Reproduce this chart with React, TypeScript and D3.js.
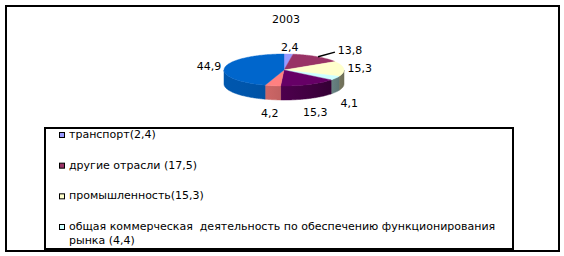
import React from "react";
import * as d3 from "d3";

const title = "2003";
const values = [2.4, 13.8, 15.3, 4.1, 15.3, 4.2, 44.9];
const pieLabels = ["2,4", "13,8", "15,3", "4,1", "15,3", "4,2", "44,9"];
const sliceColors = ["#9999FF", "#993366", "#FFFFCC", "#CCFFFF", "#660066", "#FF8080", "#0066CC"];
const legendLabels = [
  ["транспорт(2,4)"],
  ["другие отрасли (17,5)"],
  ["промышленность(15,3)"],
  ["общая коммерческая  деятельность по обеспечению функционирования", "рынка (4,4)"],
];
const legendColors = ["#9999FF", "#993366", "#FFFFCC", "#CCFFFF"];

const W = 564;
const H = 256;
const cx = 284;
const cy = 70;
const rx = 60;
const ry = 16;
const depth = 14;
const labelRx = 76;
const labelRy = 22.6;
const pulled = { index: 1, dx: 24, dy: -1 };
const font = "'DejaVu Sans', sans-serif";

const pt = (a: number, dy = 0): [number, number] => [cx + rx * Math.sin(a), cy - ry * Math.cos(a) + dy];

function shadeAt(c: string, s: number) {
  const t = (s + 1) / 2;
  const k = 0.85 - 0.42 * t * t;
  const col = d3.rgb(c);
  return d3.rgb(col.r * k, col.g * k, col.b * k).formatHex();
}

export default function App() {
  const arcs = d3.pie<number>().sort(null).startAngle(0).endAngle(2 * Math.PI)(values);
  const line = d3.line();
  const stops = d3.range(0, 11).map((k) => k / 10);

  const gradients = sliceColors.map((c, i) => (
    <linearGradient key={`g${i}`} id={`side${i}`} gradientUnits="userSpaceOnUse" x1={cx - rx} y1={0} x2={cx + rx} y2={0}>
      {stops.map((o) => (
        <stop key={o} offset={o} stopColor={shadeAt(c, o * 2 - 1)} />
      ))}
    </linearGradient>
  ));

  const sides: React.ReactNode[] = [];
  arcs.forEach((arc, i) => {
    const s = Math.max(arc.startAngle, Math.PI / 2);
    const e = Math.min(arc.endAngle, (3 * Math.PI) / 2);
    if (s >= e) return;
    const n = Math.max(2, Math.ceil((e - s) / 0.02));
    const topPts: [number, number][] = [];
    const botPts: [number, number][] = [];
    for (let k = 0; k <= n; k++) {
      const a = s + ((e - s) * k) / n;
      topPts.push(pt(a));
      botPts.push(pt(a, depth));
    }
    const poly = topPts.concat(botPts.reverse());
    sides.push(
      <path key={`s${i}`} d={line(poly)! + "Z"} fill={`url(#side${i})`} stroke={`url(#side${i})`} strokeWidth={0.5} />
    );
  });

  const tops = arcs.map((arc, i) => {
    const n = Math.max(2, Math.ceil((arc.endAngle - arc.startAngle) / 0.02));
    const pts: [number, number][] = [[cx, cy]];
    for (let k = 0; k <= n; k++) {
      pts.push(pt(arc.startAngle + ((arc.endAngle - arc.startAngle) * k) / n));
    }
    return <path key={`t${i}`} d={line(pts)! + "Z"} fill={sliceColors[i]} stroke={sliceColors[i]} strokeWidth={0.4} />;
  });

  const labels = arcs.map((arc, i) => {
    const a = (arc.startAngle + arc.endAngle) / 2;
    const front = Math.cos(a) < 0;
    let x = cx + labelRx * Math.sin(a);
    let y = cy - labelRy * Math.cos(a) + (front ? depth + 7 : 0);
    let leader: React.ReactNode = null;
    if (i === pulled.index) {
      x += pulled.dx;
      y += pulled.dy;
      const [sx, sy] = pt(a);
      leader = <line x1={sx + 1} y1={sy} x2={x - 15} y2={y + 2} stroke="#000" strokeWidth={1.5} />;
    }
    return (
      <g key={`l${i}`}>
        {leader}
        <text x={x} y={y + 4} textAnchor="middle" fontFamily={font} fontSize={11} fill="#000">
          {pieLabels[i]}
        </text>
      </g>
    );
  });

  const legendY = d3.scaleLinear().domain([0, 3]).range([138, 230]);

  return (
    <svg width={W} height={H} style={{ position: "absolute", left: 0, top: 0 }}>
      <defs>{gradients}</defs>
      <rect x={0} y={0} width={W} height={H} fill="#fff" />
      <rect x={6} y={6} width={553} height={245} fill="#fff" stroke="#000" strokeWidth={2} />
      <text x={286} y={23} textAnchor="middle" fontFamily={font} fontSize={11} fill="#000">
        {title}
      </text>
      {sides}
      {tops}
      {labels}
      <rect x={45} y={128} width={468} height={121} fill="#fff" stroke="#000" strokeWidth={2} />
      {legendLabels.map((lines, i) => {
        const y = legendY(i);
        return (
          <g key={`lg${i}`}>
            <rect x={59.5} y={y - 5.5} width={5} height={5} fill={legendColors[i]} stroke="#000" strokeWidth={1} />
            {lines.map((t, j) => (
              <text
                key={j}
                x={69}
                y={y + j * 14}
                fontFamily={font}
                fontSize={11}
                fill="#000"
                style={{ whiteSpace: "pre" }}
              >
                {t}
              </text>
            ))}
          </g>
        );
      })}
    </svg>
  );
}
